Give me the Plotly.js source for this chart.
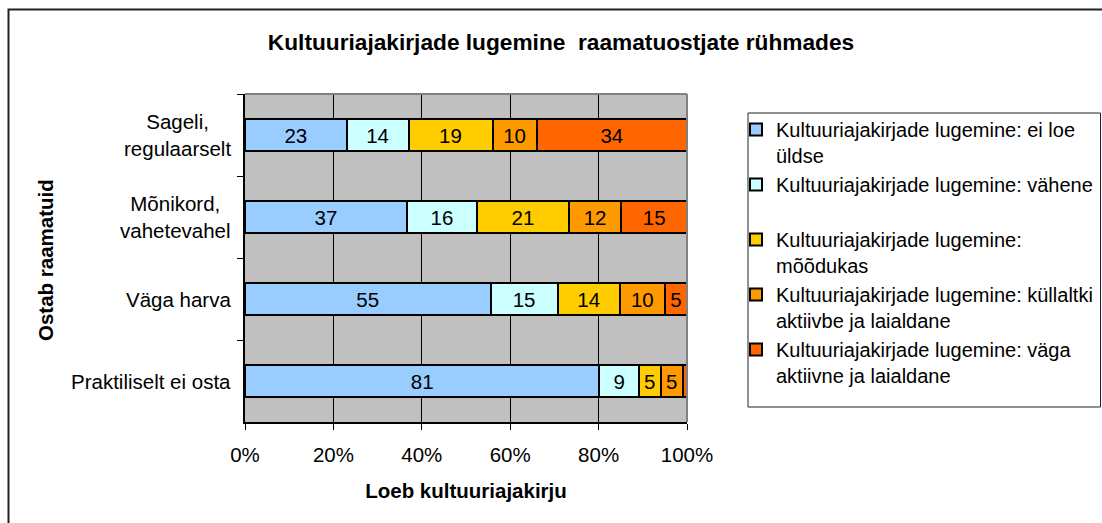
<!DOCTYPE html>
<html>
<head>
<meta charset="utf-8">
<script src="https://cdn.plot.ly/plotly-3.0.1.min.js"></script>
<style>
html,body{margin:0;padding:0;background:#fff;}
#chart{width:1102px;height:523px;}
</style>
</head>
<body>
<div id="chart"></div>
<script>
// ---- data ----
const categories = ['Sageli, regulaarselt', 'Mõnikord, vahetevahel', 'Väga harva', 'Praktiliselt ei osta'];
const categoryLabels = ['Sageli,<br>regulaarselt', 'Mõnikord,<br>vahetevahel', 'Väga harva', 'Praktiliselt ei osta'];
const seriesNames = [
  'Kultuuriajakirjade lugemine: ei loe<br>üldse',
  'Kultuuriajakirjade lugemine: vähene<br>\u00A0',
  'Kultuuriajakirjade lugemine:<br>mõõdukas',
  'Kultuuriajakirjade lugemine: küllaltki<br>aktiivbe ja laialdane',
  'Kultuuriajakirjade lugemine: väga<br>aktiivne ja laialdane'
];
const eiLoe     = [23, 37, 55, 81];
const vahene    = [14, 16, 15, 9];
const moodukas  = [19, 21, 14, 5];
const kullaltki = [10, 12, 10, 5];
const vagaAkt   = [34, 15, 5, 1];
const seriesValues = [eiLoe, vahene, moodukas, kullaltki, vagaAkt];
const seriesColors = ['#99CCFF', '#CCFFFF', '#FFCC00', '#FF9900', '#FF6600'];
const xTickValues = [0, 20, 40, 60, 80, 100];
const xTickLabels = ['0%', '20%', '40%', '60%', '80%', '100%'];

const FONT = 'Liberation Sans, Arial, sans-serif';
const FS = 20.5;

const traces = seriesValues.map((vals, i) => ({
  type: 'bar',
  orientation: 'h',
  name: seriesNames[i],
  legendgroup: 'g' + i,
  y: categories,
  x: vals,
  text: vals.map(String),
  textposition: 'inside',
  insidetextanchor: 'middle',
  textangle: 0,
  textfont: {family: FONT, size: FS, color: '#000'},
  marker: {color: seriesColors[i], line: {color: '#000', width: 2}},
  hoverinfo: 'skip'
}));

// plot area in px: x 245..687, y 94..422
const L = 245, R = 687, T = 94, B = 422, W = 1102, H = 523;
const px = v => (v - L) / (R - L);
const py = v => (B - v) / (B - T);

const annotations = categories.map((c, i) => ({
  xref: 'paper', yref: 'y', x: px(233), y: c,
  xanchor: 'right', yanchor: 'middle', align: 'center',
  text: categoryLabels[i], showarrow: false,
  font: {family: FONT, size: FS, color: '#000'}
}));

const layout = {
  width: W, height: H,
  margin: {l: L, r: W - R, t: T, b: H - B, pad: 0},
  paper_bgcolor: '#fff',
  plot_bgcolor: '#C0C0C0',
  barmode: 'stack',
  barnorm: 'percent',
  bargap: 0.6,
  uniformtext: {minsize: 18, mode: 'hide'},
  title: {
    text: '<b>Kultuuriajakirjade lugemine  raamatuostjate rühmades</b>',
    xref: 'container', yref: 'container',
    x: 561 / W, xanchor: 'center', y: 1 - 42 / H, yanchor: 'middle',
    font: {family: FONT, size: 22.7, color: '#000'}
  },
  xaxis: {
    range: [0, 100], tickvals: xTickValues, ticktext: xTickLabels,
    showgrid: true, gridcolor: '#000', gridwidth: 1,
    zeroline: false, showline: true, linecolor: '#000', linewidth: 2,
    ticks: 'outside', ticklen: 6, tickcolor: '#000', tickwidth: 1,
    ticklabelstandoff: 7,
    tickfont: {family: FONT, size: FS, color: '#000'},
    title: {text: '<b>Loeb kultuuriajakirju</b>', standoff: 19,
            font: {family: FONT, size: FS, color: '#000'}},
    fixedrange: true
  },
  yaxis: {
    type: 'category', autorange: 'reversed',
    showticklabels: false, showgrid: false, zeroline: false,
    showline: true, linecolor: '#000', linewidth: 2,
    ticks: 'outside', tickson: 'boundaries', ticklen: 6, tickcolor: '#000', tickwidth: 1,
    fixedrange: true
  },
  showlegend: true,
  legend: {
    xref: 'container', yref: 'container',
    x: 736 / W, xanchor: 'left', y: 1 - 110 / H, yanchor: 'top',
    bgcolor: 'rgba(0,0,0,0)', borderwidth: 0,
    traceorder: 'normal', valign: 'top',
    tracegroupgap: 5, maxheight: 420,
    font: {family: FONT, size: 20, color: '#000'}
  },
  annotations: annotations.concat([{
    xref: 'paper', yref: 'paper', x: px(45), y: py(260),
    xanchor: 'center', yanchor: 'middle', textangle: -90,
    text: '<b>Ostab raamatuid</b>', showarrow: false,
    font: {family: FONT, size: FS, color: '#000'}
  }]),
  shapes: [
    // plot area top/right border (gray)
    {type: 'line', xref: 'paper', yref: 'paper', x0: 0, x1: 1, y0: 1, y1: 1, line: {color: '#808080', width: 2}, layer: 'above'},
    {type: 'line', xref: 'paper', yref: 'paper', x0: 1, x1: 1, y0: 0, y1: 1, line: {color: '#808080', width: 2}, layer: 'above'},
    // legend box
    {type: 'rect', xref: 'paper', yref: 'paper', x0: px(748), x1: px(1100.5), y0: py(407), y1: py(113), line: {color: '#222', width: 1}, layer: 'above'},
    // outer chart border
    {type: 'rect', xref: 'paper', yref: 'paper', x0: px(8.5), x1: px(1115), y0: py(535), y1: py(9.5), line: {color: '#222', width: 2}, layer: 'above'}
  ]
};

Plotly.newPlot('chart', traces, layout, {displayModeBar: false, staticPlot: true});
</script>
</body>
</html>
